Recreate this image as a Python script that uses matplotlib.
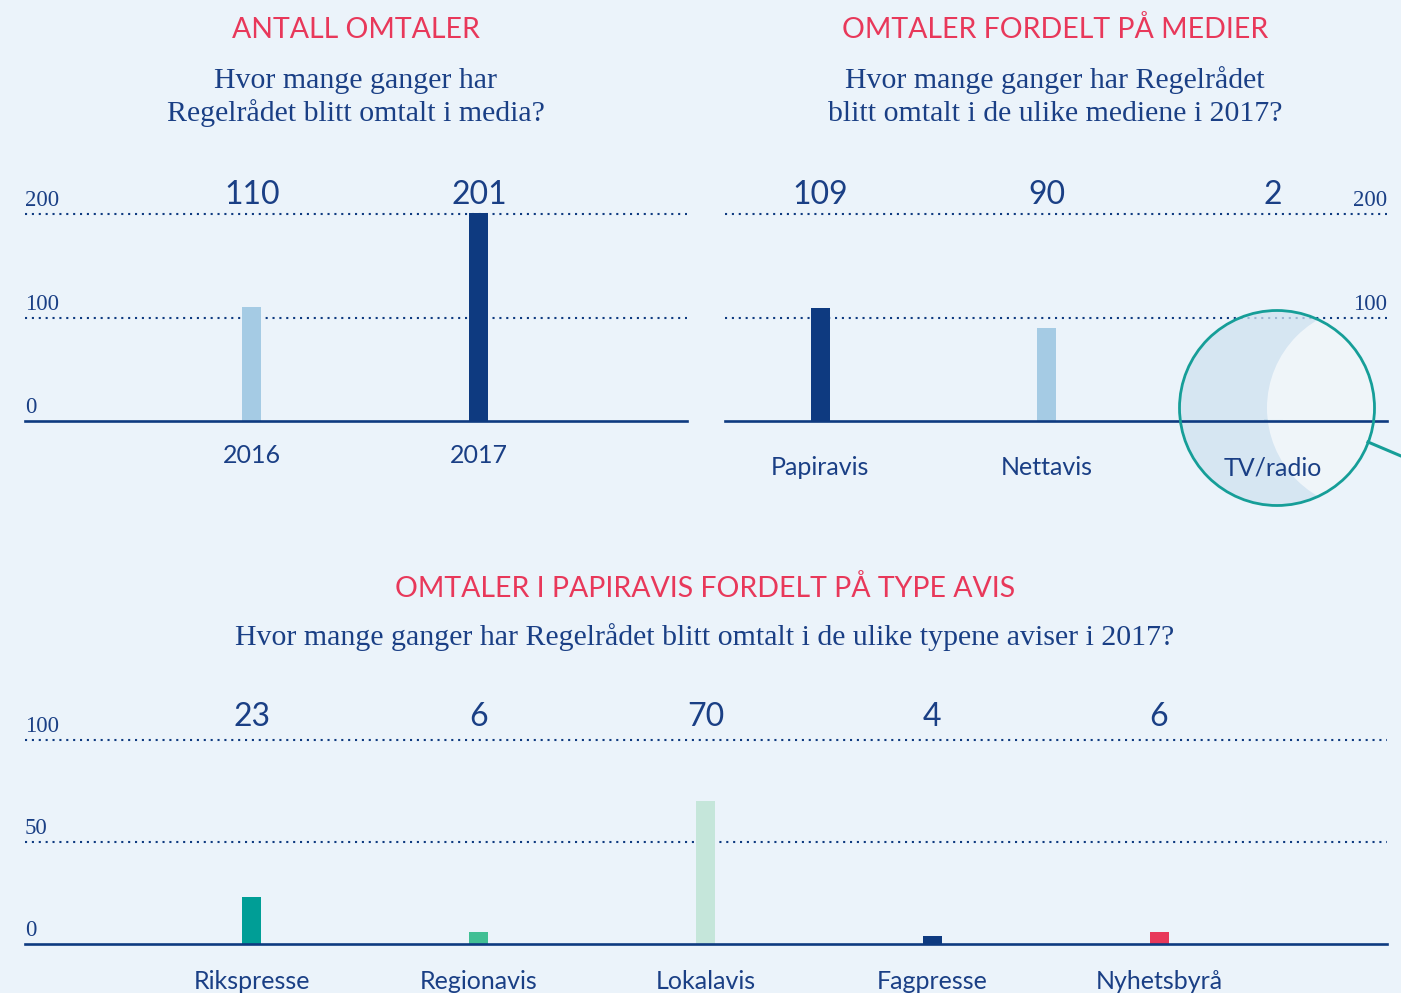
import matplotlib.pyplot as plt
import matplotlib.patches as mpatches

# data
years = ['2016', '2017']
year_counts = [110, 201]
year_colors = ['#a5cbe4', '#0e3a80']

media = ['Papiravis', 'Nettavis', 'TV/radio']
media_counts = [109, 90, 2]
media_colors = ['#0e3a80', '#a5cbe4', '#a5cbe4']

papers = ['Rikspresse', 'Regionavis', 'Lokalavis', 'Fagpresse', 'Nyhetsbyrå']
paper_counts = [23, 6, 70, 4, 6]
paper_colors = ['#009e96', '#41bf94', '#c5e6da', '#0e3a80', '#e8385a']

BG = '#ebf3fa'
NAVY = '#0e3a80'
TEXT = '#1a3f85'
RED = '#e8385a'
SANS = ['Lato', 'DejaVu Sans']
SERIF = ['Liberation Serif', 'DejaVu Serif']

W, H = 1401, 993
fig = plt.figure(figsize=(W / 100, H / 100), dpi=100, facecolor=BG)


def px_axes(x0, x1, ybase, yref, refval, top, xlim):
    # axes placed in pixel coords, y scaled so that refval sits at pixel yref
    ax = fig.add_axes([x0 / W, 1 - ybase / H, (x1 - x0) / W, (ybase - top) / H])
    ax.set_xlim(*xlim)
    ax.set_ylim(0, refval * (ybase - top) / (ybase - yref))
    ax.set_facecolor('none')
    for s in ['top', 'right', 'left']:
        ax.spines[s].set_visible(False)
    ax.spines['bottom'].set_color(NAVY)
    ax.spines['bottom'].set_linewidth(1.9)
    ax.tick_params(left=False, labelleft=False, bottom=False)
    ax.xaxis.set_zorder(3)
    return ax


def bars(ax, labels, values, colors, label_y, pad, gridvals, side, skip_zero=False):
    x = range(len(labels))
    for v in gridvals[1:]:
        ax.axhline(v, color=NAVY, lw=1.5, ls=(0, (1, 2.3)), zorder=0.5)
    ax.bar(x, values, width=0.084, color=colors, zorder=1)
    for i, v in enumerate(values):
        ax.text(i, label_y, str(v), ha='center', va='center', fontsize=23,
                color=TEXT, family=SANS)
    ax.set_xticks(list(x))
    ax.set_xticklabels(labels, fontsize=18, color=TEXT, family=SANS)
    ax.tick_params(axis='x', pad=pad)
    xl = ax.get_xlim()
    for v in gridvals:
        if skip_zero and v == 0:
            continue
        if side == 'left':
            ax.annotate(str(v), (xl[0], v), xytext=(0, 2), textcoords='offset points',
                        ha='left', va='bottom', fontsize=16.5, color=TEXT, family=SERIF)
        else:
            ax.annotate(str(v), (xl[1], v), xytext=(0, 2), textcoords='offset points',
                        ha='right', va='bottom', fontsize=16.5, color=TEXT, family=SERIF)


# top left
ax1 = px_axes(25, 687, 421, 214, 200, 160, (-1, 1.917))
bars(ax1, years, year_counts, year_colors, 218, 13, [0, 100, 200], 'left')

# top right
ax2 = px_axes(725, 1387, 421, 214, 200, 160, (-0.42, 2.503))
bars(ax2, media, media_counts, media_colors, 218, 22, [0, 100, 200], 'right', skip_zero=True)

# bottom
ax3 = px_axes(25, 1387, 944, 842, 50, 690, (-1, 5.005))
bars(ax3, papers, paper_counts, paper_colors, 111.2, 15, [0, 50, 100], 'left')


def title(x, y, s):
    fig.text(x / W, 1 - y / H, s, ha='center', va='baseline', fontsize=20.5,
             color=RED, family=SANS)


def subtitle(x, y, s):
    fig.text(x / W, 1 - y / H, s, ha='center', va='baseline', fontsize=21.5,
             color=TEXT, family=SERIF)


title(356, 38, 'ANTALL OMTALER')
subtitle(356, 88, 'Hvor mange ganger har')
subtitle(356, 121, 'Regelrådet blitt omtalt i media?')
title(1055, 38, 'OMTALER FORDELT PÅ MEDIER')
subtitle(1055, 88, 'Hvor mange ganger har Regelrådet')
subtitle(1055, 121, 'blitt omtalt i de ulike mediene i 2017?')
title(705, 597, 'OMTALER I PAPIRAVIS FORDELT PÅ TYPE AVIS')
subtitle(705, 645, 'Hvor mange ganger har Regelrådet blitt omtalt i de ulike typene aviser i 2017?')

# magnifier circle around TV/radio
tr = fig.dpi_scale_trans
c_x, c_y, r = 1277 / 100, (H - 408) / 100, 97.5 / 100
outer = mpatches.Circle((c_x, c_y), r, transform=tr, facecolor='#cfe2f0',
                        edgecolor='none', alpha=0.75, zorder=2.3, clip_on=False)
ax2.add_artist(outer)
inner = mpatches.Circle((1369 / 100, c_y), 102 / 100, transform=tr, facecolor='#f6f9fc',
                        edgecolor='none', alpha=0.8, zorder=2.4)
ax2.add_artist(inner)
inner.set_clip_path(outer)
inner.set_clip_box(None)
ring = mpatches.Circle((c_x, c_y), r, transform=tr, facecolor='none',
                       edgecolor='#169e98', lw=2, zorder=3.5, clip_on=False)
ax2.add_artist(ring)
fig.add_artist(plt.Line2D([1368 / W, 1401 / W], [1 - 442 / H, 1 - 456 / H],
                          color='#169e98', lw=2.2))

fig.savefig('out.png', dpi=100, facecolor=BG)
